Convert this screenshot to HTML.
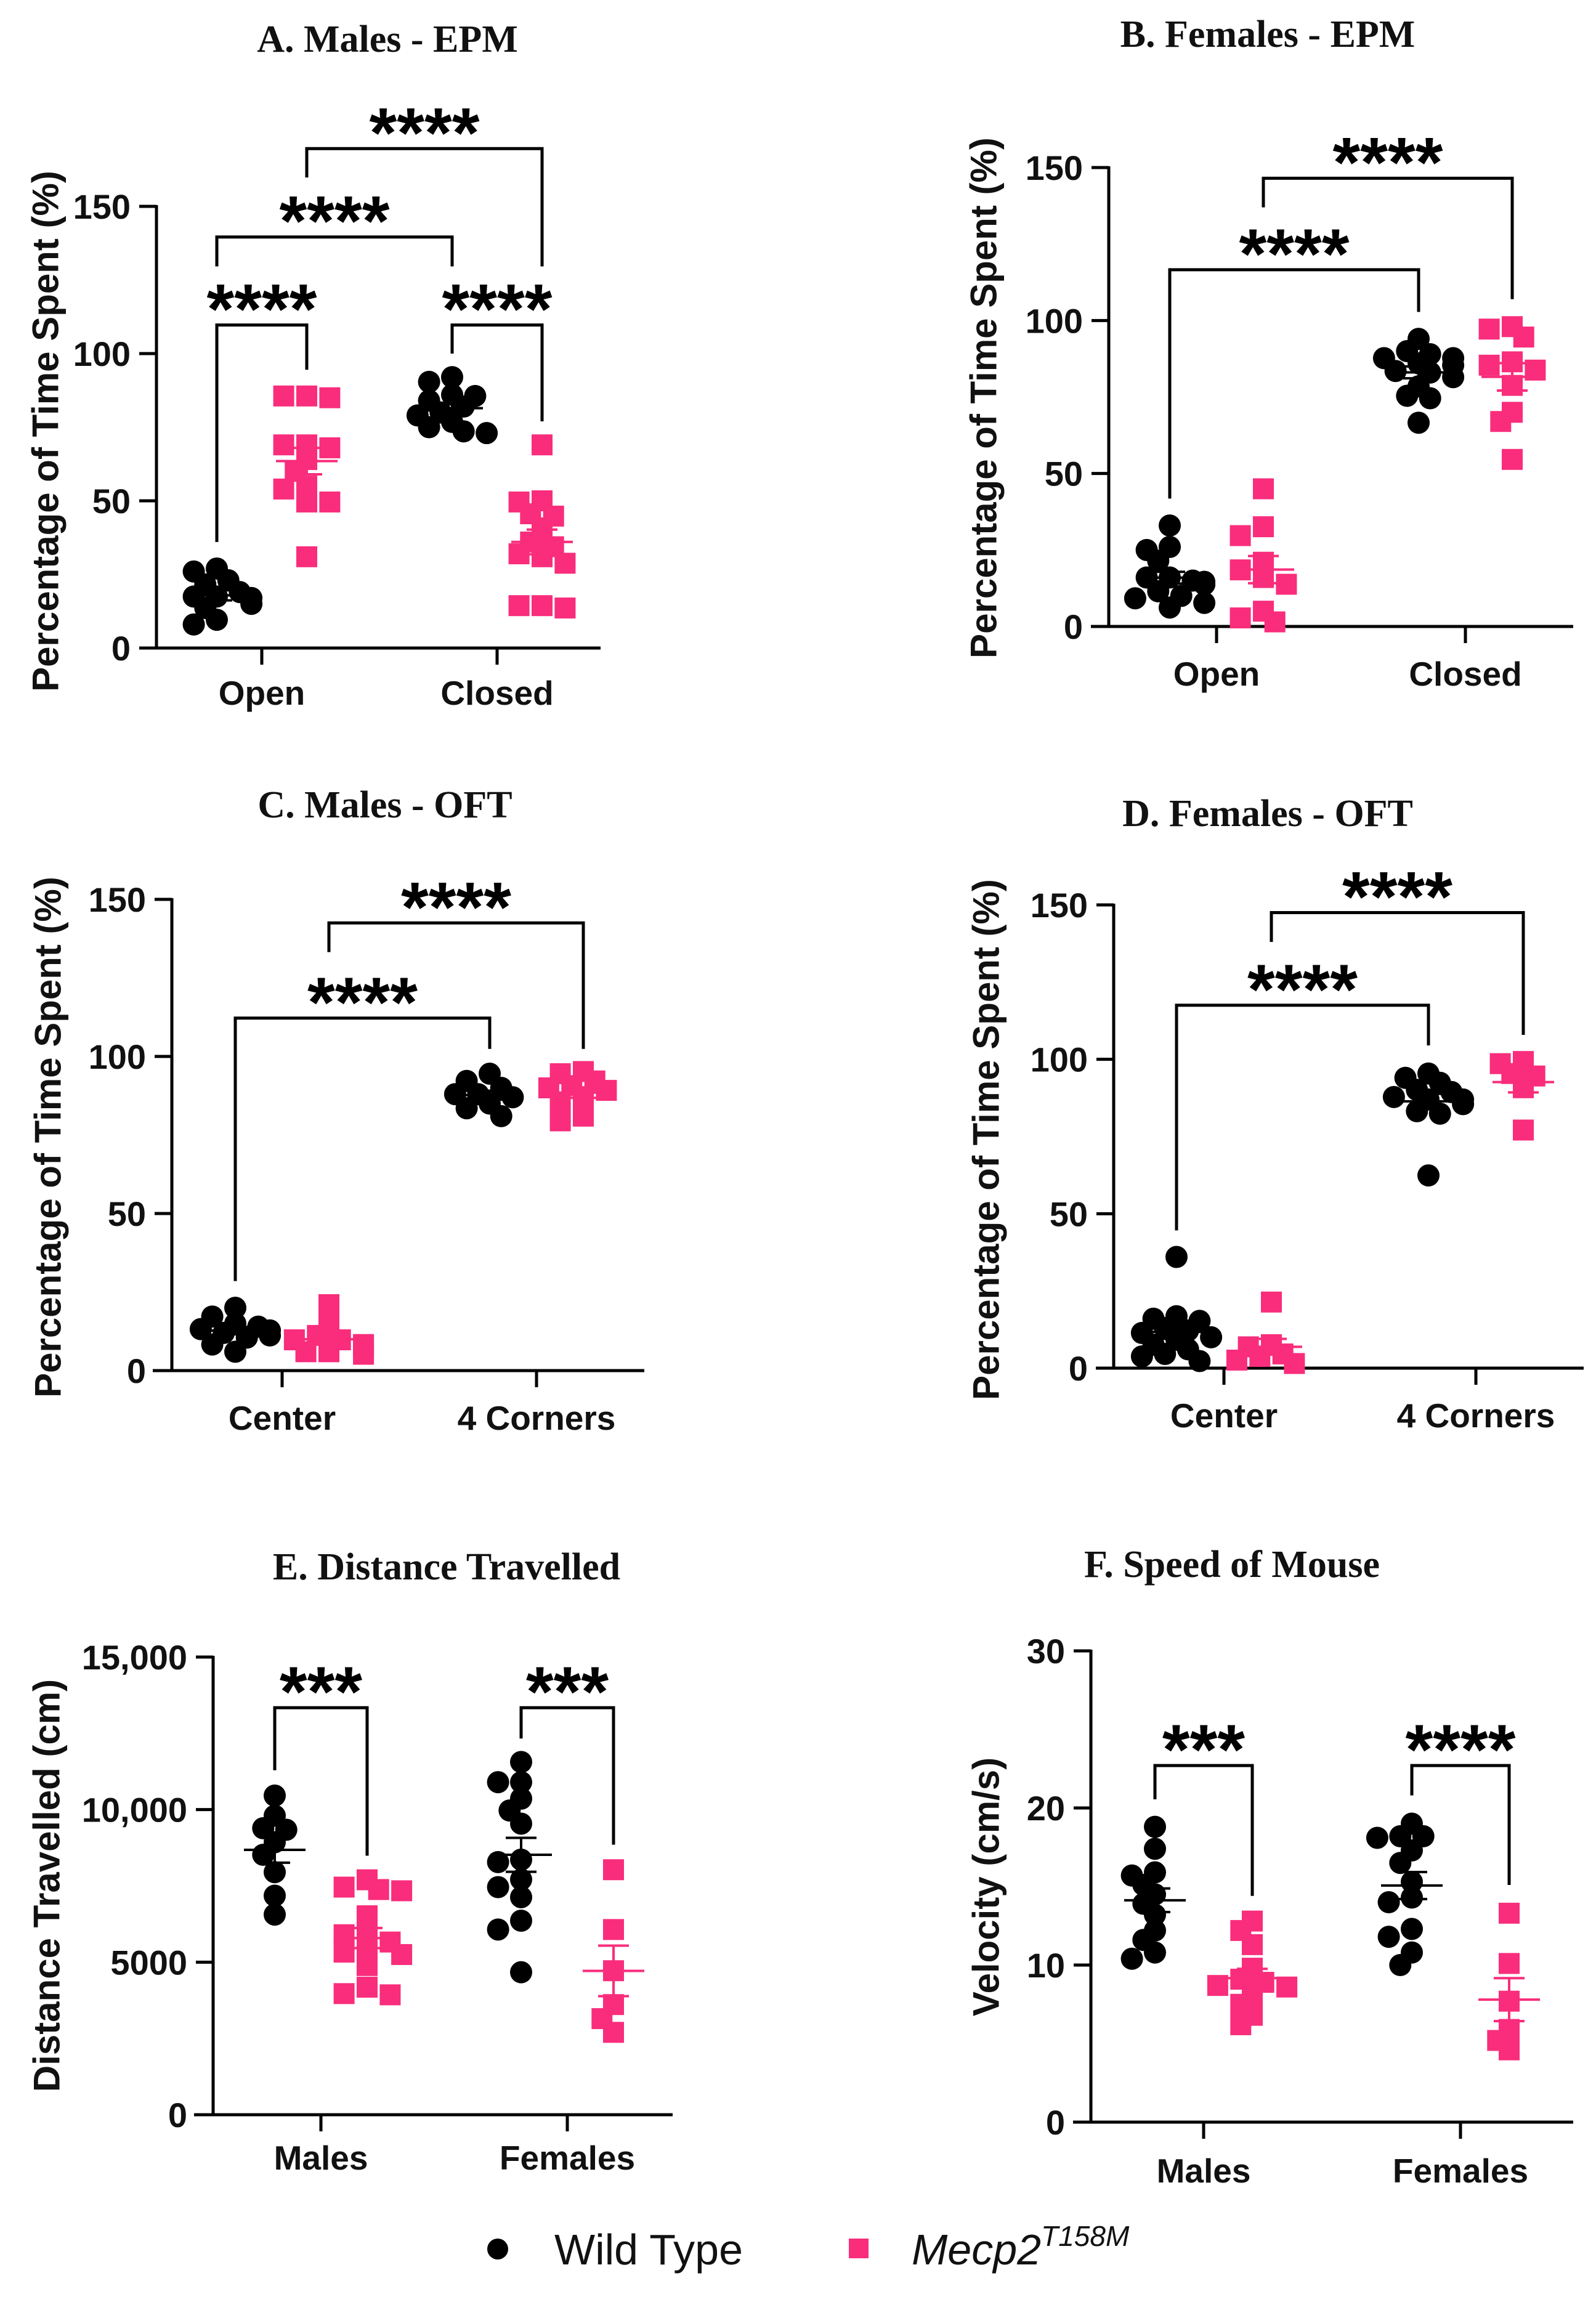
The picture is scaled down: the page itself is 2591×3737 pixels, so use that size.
<!DOCTYPE html>
<html><head><meta charset="utf-8"><style>
html,body{margin:0;padding:0;background:#fff}
svg{display:block}
</style></head><body>
<svg id="fig" xmlns="http://www.w3.org/2000/svg" width="2591" height="3737" viewBox="0 0 2591 3737">
<rect width="2591" height="3737" fill="#fff"/>
<g>
  <circle cx="808" cy="3651" r="17" fill="#000"/>
  <text x="900" y="3676" font-family="Liberation Sans, sans-serif" font-size="70" fill="#111">Wild Type</text>
  <rect x="1378" y="3634" width="32" height="32" fill="#F92D7C"/>
  <text x="1480" y="3676" font-family="Liberation Sans, sans-serif" font-size="70" font-style="italic" fill="#111">Mecp2<tspan font-size="46" dy="-30">T158M</tspan></text>
</g>
</svg>
<script>
// ---- Panel A: Males EPM ----
const aCats = ["Open","Closed"];
const aWT_open = [27,26,23,19,17.5,17.5,17,13.6,9.6,8,21.6,15];
const aMut_open = [85.6,85.6,85,69,69,68,64,60,55,54,49.6,49.6,31];
const aWT_closed = [92,90.4,86,85.6,84,82,80,75,73.6,73,79,76.8];
const aMut_closed = [69,50,49.6,45.6,44.8,40.8,36,34.4,32,31,28.8,14.4,13.6,14.4];
// ---- Panel B: Females EPM ----
const bCats = ["Open","Closed"];
const bWT_open = [33,26,25,21.5,16,15,14.6,13.8,10,9.2,7.7,6.2,16,13.8,11.5];
const bMut_open = [45,32.6,29.7,21,18.5,16,13.8,5,1.5,2.8];
const bWT_closed = [94,90,89,87.7,86,85.4,83,81.5,78.5,75.4,74.6,66.6,87.7,83.5];
const bMut_closed = [98,97.2,94.6,86.5,85.4,83.8,78.8,70,67,54.6];
// ---- Panel C: Males OFT ----
const cCats = ["Center","4 Corners"];
const cWT_center = [20,17.2,15,13.2,12.8,12,10.5,8.3,6,14,11.2];
const cMut_center = [21,15,11.2,9.8,8.3,6,5.2,9.8,7.5,6];
const cWT_corners = [94.5,92.2,90,88,87,85,83.5,81,88];
const cMut_corners = [95.2,94.5,92.2,90,89.2,87,85.5,81,79.5,90.7];
// ---- Panel D: Females OFT ----
const dCats = ["Center","4 Corners"];
const dWT_center = [36,16.8,16,15.3,12.2,11.4,10,7.6,6.1,4.6,3.8,2.3,13,9.2];
const dMut_center = [21.4,7.6,4.6,3.8,1.5,2.6,6.9];
const dWT_corners = [95.4,94,92.4,89.4,87.8,87,85.5,83.2,82.4,62.4,90.1,87];
const dMut_corners = [99.3,98.6,95.4,94.6,90.8,77.1];
// ---- Panel E: Distance ----
const eCats = ["Males","Females"];
const eWT_males = [10460,9800,9390,9340,8930,8520,7950,7180,6560];
const eMut_males = [7700,7460,7340,7380,6520,5930,5660,5410,5250,4890,4180,3970,3930,5900,5330];
const eWT_females = [11560,10900,10900,10360,9970,9540,8280,7710,7460,7130,6360,6070,4670,8360];
const eMut_females = [8030,6070,4720,3610,3150,2700];
// ---- Panel F: Speed ----
const fCats = ["Males","Females"];
const fWT_males = [18.8,17.4,15.9,15.7,15.1,13.9,13.2,12.2,11.6,10.8,10.4,14.5];
const fMut_males = [12.8,12.2,11.3,9.8,9.1,8.9,8.6,8.1,6.8,6.2,8.7,7.5];
const fWT_females = [19,18.2,18.2,18.1,17.3,16.5,15.3,14,12.3,11.8,10.8,10,14.3];
const fMut_females = [13.3,10.1,7.7,5.9,5.2,4.6];
// tick values/labels
const pctTicks = [0,50,100,150];
const pctTickLabels = ["0","50","100","150"];
const distTicks = [0,5000,10000,15000];
const distTickLabels = ["0","5000","10,000","15,000"];
const velTicks = [0,10,20,30];
const velTickLabels = ["0","10","20","30"];
// brackets: [groupFrom, groupTo, top, legFrom, legTo, label] (data units)
const aBrackets = [[0,1,109.7,36,94.5,"****"],[2,3,109.7,100,77,"****"],[0,2,139.6,129.6,129.6,"****"],[1,3,169.6,159.8,129.6,"****"]];
const bBrackets = [[0,2,116.6,41.8,102.8,"****"],[1,3,146.5,137,107,"****"]];
const cBrackets = [[0,2,112.2,28.5,102.4,"****"],[1,3,142.5,133.2,102.4,"****"]];
const dBrackets = [[0,2,117.5,44.6,104.5,"****"],[1,3,147.5,138,107.9,"****"]];
const eBrackets = [[0,1,13340,11290,8490,"***"],[2,3,13340,12330,8850,"***"]];
const fBrackets = [[0,1,22.7,20.55,14.4,"***"],[2,3,22.7,20.8,15.1,"****"]];

const NS="http://www.w3.org/2000/svg";
const svg=document.getElementById('fig');
const PINK="#F92D7C";
function mk(tag,attrs,parent){const e=document.createElementNS(NS,tag);for(const k in attrs)e.setAttribute(k,attrs[k]);parent.appendChild(e);return e;}

function panel(p){
  const g=mk('g',{},svg);
  
  
  const ys=v=>p.y0-(v/p.vmax)*(p.y0-p.yTop);
  const gx=i=>p.cats[Math.floor(i/2)]+(i%2===0?-p.off:p.off);
  const t=mk('text',{x:p.tx,y:p.ty,'text-anchor':'middle','font-family':'Liberation Serif, serif','font-weight':'bold','font-size':62,fill:'#111'},g);
  t.textContent=p.title;
  
  
  const yl=mk('text',{x:0,y:0,transform:`translate(${p.ylx},${p.yly}) rotate(-90)`,'text-anchor':'middle','dominant-baseline':'central','font-family':'Liberation Sans, sans-serif','font-weight':'bold','font-size':60,fill:'#111'},g);
  yl.textContent=p.ylabel;
  
  
  const ya=mk('line',{x1:p.x0,y1:p.yTop-2,x2:p.x0,y2:p.y0,stroke:'#000','stroke-width':5},g);
  
  
  const xa=mk('line',{x1:p.xl,y1:p.y0,x2:p.xr,y2:p.y0,stroke:'#000','stroke-width':5},g);
  
  
  p.ticks.forEach((v,i)=>{
    const y=ys(v);
    const tl=mk('line',{x1:p.x0-28,y1:y,x2:p.x0,y2:y,stroke:'#000','stroke-width':5},g);
    
    
    const tt=mk('text',{x:p.x0-42,y:y+20,'text-anchor':'end','font-family':'Liberation Sans, sans-serif','font-weight':'bold','font-size':56,fill:'#111'},g);
    tt.textContent=p.tickLabels[i];
    
    
  });
  p.catNames.forEach((c,i)=>{
    const x=p.cats[i];
    const tl=mk('line',{x1:x,y1:p.y0,x2:x,y2:p.y0+27,stroke:'#000','stroke-width':5},g);
    
    
    const tt=mk('text',{x:x,y:p.catY,'text-anchor':'middle','font-family':'Liberation Sans, sans-serif','font-weight':'bold','font-size':55,fill:'#111'},g);
    tt.textContent=c;
    
    
  });
  p.groups.forEach((arr,gi)=>{
    const isWT=gi%2===0;
    const cx=gx(gi);
    const d=34;
    const placed=[];
    const sorted=arr.slice().sort((a,b)=>b-a);
    sorted.forEach(v=>{
      const y=ys(v);
      const cands=[0,-1,1,-2,2,-3,3];
      let ox=cx;
      for(const c of cands){
        const x=cx+c*d*0.55;
        ox=x;
        if(placed.every(q=>Math.hypot(q[0]-x,q[1]-y)>d*0.7))break;
      }
      placed.push([ox,y]);
      let m;
      if(isWT){m=mk('circle',{cx:ox,cy:y,r:18,fill:'#000'},g);}
      else{m=mk('rect',{x:ox-17,y:y-17,width:34,height:34,fill:PINK},g);}
      
      
    });
    const n=arr.length, mean=arr.reduce((a,b)=>a+b,0)/n;
    const sd=Math.sqrt(arr.reduce((a,b)=>a+(b-mean)*(b-mean),0)/(n-1)), sem=sd/Math.sqrt(n);
    const col=isWT?'#000':PINK;
    const ml=mk('line',{x1:cx-50,y1:ys(mean),x2:cx+50,y2:ys(mean),stroke:col,'stroke-width':4},g);
    
    
    const er=mk('path',{d:`M${cx},${ys(mean+sem)}V${ys(mean-sem)}M${cx-25},${ys(mean+sem)}H${cx+25}M${cx-25},${ys(mean-sem)}H${cx+25}`,stroke:col,'stroke-width':4,fill:'none'},g);
    
    
  });
  p.brackets.forEach(b=>{
    const x1=gx(b[0]),x2=gx(b[1]),top=ys(b[2]);
    const br=mk('path',{d:`M${x1},${ys(b[3])}V${top}H${x2}V${ys(b[4])}`,stroke:'#000','stroke-width':5,fill:'none'},g);
    
    
    const st=mk('text',{x:(x1+x2)/2,y:top+14,'text-anchor':'middle','font-family':'Liberation Sans, sans-serif','font-weight':'bold','font-size':115,fill:'#000'},g);
    st.textContent=b[5];
    
    
  });
}

const pctLabel="Percentage of Time Spent (%)";
panel({name:'panel-a-males-epm',title:'A. Males - EPM',tx:629,ty:84,ylabel:pctLabel,ylx:74,yly:700,x0:254,y0:1052,yTop:335,vmax:150,xl:228,xr:975,cats:[425,807],off:73,catY:1144,catNames:aCats,ticks:pctTicks,tickLabels:pctTickLabels,groups:[aWT_open,aMut_open,aWT_closed,aMut_closed],brackets:aBrackets});
panel({name:'panel-b-females-epm',title:'B. Females - EPM',tx:2058,ty:76,ylabel:pctLabel,ylx:1597,yly:646,x0:1800,y0:1017,yTop:272,vmax:150,xl:1771,xr:2554,cats:[1975,2379],off:76,catY:1113,catNames:bCats,ticks:pctTicks,tickLabels:pctTickLabels,groups:[bWT_open,bMut_open,bWT_closed,bMut_closed],brackets:bBrackets});
panel({name:'panel-c-males-oft',title:'C. Males - OFT',tx:625,ty:1327,ylabel:pctLabel,ylx:78,yly:1846,x0:279,y0:2225,yTop:1460,vmax:150,xl:248,xr:1046,cats:[458,871],off:76,catY:2321,catNames:cCats,ticks:pctTicks,tickLabels:pctTickLabels,groups:[cWT_center,cMut_center,cWT_corners,cMut_corners],brackets:cBrackets});
panel({name:'panel-d-females-oft',title:'D. Females - OFT',tx:2058,ty:1341,ylabel:'Percentage of Time  Spent (%)',ylx:1601,yly:1850,x0:1808,y0:2221,yTop:1469,vmax:150,xl:1779,xr:2571,cats:[1987,2396],off:77,catY:2317,catNames:dCats,ticks:pctTicks,tickLabels:pctTickLabels,groups:[dWT_center,dMut_center,dWT_corners,dMut_corners],brackets:dBrackets});
panel({name:'panel-e-distance',title:'E. Distance Travelled',tx:725,ty:2564,ylabel:'Distance Travelled (cm)',ylx:76,yly:3061,x0:346,y0:3433,yTop:2690,vmax:15000,xl:315,xr:1092,cats:[521,921],off:75,catY:3522,catNames:eCats,ticks:distTicks,tickLabels:distTickLabels,groups:[eWT_males,eMut_males,eWT_females,eMut_females],brackets:eBrackets});
panel({name:'panel-f-speed',title:'F. Speed of Mouse',tx:2000,ty:2560,ylabel:'Velocity (cm/s)',ylx:1601,yly:3063,x0:1771,y0:3445,yTop:2680,vmax:30,xl:1742,xr:2554,cats:[1954,2371],off:79,catY:3543,catNames:fCats,ticks:velTicks,tickLabels:velTickLabels,groups:[fWT_males,fMut_males,fWT_females,fMut_females],brackets:fBrackets});
</script>
</body></html>
